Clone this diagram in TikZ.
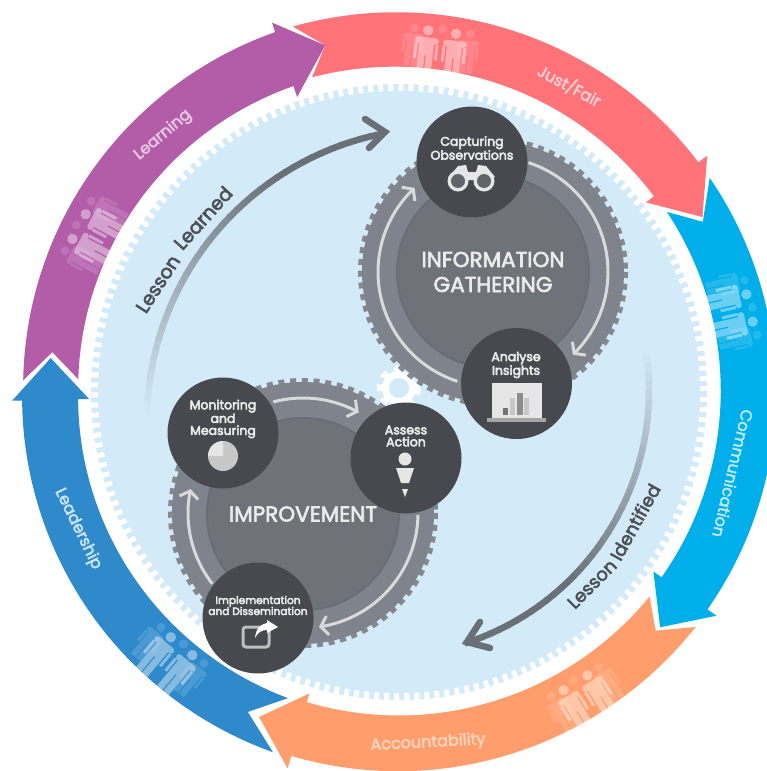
\documentclass[tikz,border=0pt]{standalone}
\usepackage{fontspec}
\setmainfont{Poppins}
\newfontfamily\popm[FakeBold=3]{Poppins}
\newfontfamily\popb[FakeBold=4]{Poppins}
\usetikzlibrary{arrows.meta}
\definecolor{cpurple}{HTML}{B35DA9}
\definecolor{cred}{HTML}{FF7379}
\definecolor{ccyan}{HTML}{00AEE9}
\definecolor{corange}{HTML}{FF9E6C}
\definecolor{cblue}{HTML}{2F8ACC}
\definecolor{cdisc}{HTML}{D3EAF8}
\definecolor{ctooth}{HTML}{85888E}
\definecolor{cring}{HTML}{7F838B}
\definecolor{ccore}{HTML}{6F7379}
\definecolor{cedge}{HTML}{696D75}
\definecolor{chub}{HTML}{47494E}
\definecolor{carc}{HTML}{D8DADB}
\definecolor{cicon}{HTML}{E6E6E7}
\definecolor{clesson}{HTML}{6A7077}
\definecolor{clessont}{HTML}{4C5157}
\newcommand\sweep[4]{plot[domain=#1:#2,samples=60] (\x:{#3+((#4)-(#3))*(\x-(#1))/((#2)-(#1))})}
\newcommand\sweepto[4]{-- plot[domain=#1:#2,samples=60] (\x:{#3+((#4)-(#3))*(\x-(#1))/((#2)-(#1))})}
% one figure: x offset, y offset, scale, opacity
\newcommand\onefig[4]{%
  \begin{scope}[shift={(#1,#2)},scale=#3]
    \fill[white,opacity=#4] (0,-19) circle[radius=5.2];
    \fill[white,opacity=#4,rounded corners=3] (-12,-12) rectangle (12,-6);
    \fill[white,opacity=#4] (-12,-6) rectangle (-9,10) (9,-6) rectangle (12,10);
    \fill[white,opacity=#4] (-7.5,-6) rectangle (7.5,6);
    \fill[white,opacity=#4] (-7.5,6) rectangle (-0.7,27) (0.7,6) rectangle (7.5,27);
  \end{scope}}
\newcommand\people[3]{%
  \begin{scope}[shift={(#1,#2)},rotate=#3]
    \fill[white,opacity=.14] (0,-21) circle[radius=4.5];
    \onefig{-28}{-3}{0.85}{.14}
    \onefig{28}{-3}{0.85}{.14}
    \onefig{-14}{1}{1}{.42}
    \onefig{14}{1}{1}{.42}
  \end{scope}}
\tikzset{
  gearbase/.style={circle,draw=none,fill=cring,minimum size=262,inner sep=0,outer sep=0},
  teeth/.style={ctooth,line width=5,dash pattern=on 6pt off 5.76pt},
  core/.style={circle,fill=ccore,draw=cedge,line width=2,minimum size=192,inner sep=0,outer sep=0,text=white!92!black,align=center,font=\popm\fontsize{21.5}{25}\selectfont},
  hub/.style={circle,fill=chub,minimum size=111,inner sep=0,outer sep=0},
  hubtext/.style={text=white!92!black,align=center,inner sep=0,font=\popb\fontsize{12.5}{12}\selectfont},
  smalltext/.style={text=white!92!black,align=center,inner sep=0,font=\popb\fontsize{10.6}{11}\selectfont},
  turn/.style={carc,line width=3,-{Straight Barb[length=7pt,width=19pt]}},
  lessonhead/.style={clesson,line width=6.5,line cap=round,line join=miter},
  bandtext/.style={inner sep=0,font=\popm\fontsize{16}{16}\selectfont},
  lessontext/.style={inner sep=0,text=clessont,font=\popm\fontsize{19}{19}\selectfont},
}
\begin{document}
\begin{tikzpicture}[x=1pt,y=-1pt]
\useasboundingbox (0,0) rectangle (767,771);
\clip (0,0) rectangle (767,771);
\fill[white] (0,0) rectangle (767,771);
% disc with teeth
\coordinate (dc) at (399,392);
\fill[cdisc] (dc) circle[radius=301];
\draw[cdisc,line width=8,dash pattern=on 5pt off 5.05pt] (dc) circle[radius=304];
% ring arrows
\begin{scope}[shift={(397,392)}]
\fill[cred] \sweep{-105.9}{-37.3}{380}{379} -- (-37.3:390) -- (-29.8:352) -- (-37.3:313) \sweepto{-37.3}{-105.1}{323}{326} -- (-101.7:354) -- cycle;
\fill[ccyan] \sweep{-34.4}{35}{379}{379} -- (35:390) -- (41.8:353) -- (35:313) \sweepto{35}{-33.7}{323}{324.5} -- (-29.1:350) -- cycle;
\fill[corange] \sweep{38.2}{106.2}{380}{379} -- (106.2:392) -- (113:353) -- (106.2:314) \sweepto{106.2}{39}{323}{325} -- (42.7:352) -- cycle;
\fill[cblue] \sweep{109}{178.7}{381}{375} -- (178.7:385) -- (185.6:348) -- (178.7:308) \sweepto{178.7}{109.6}{319}{325} -- (115:353) -- cycle;
\fill[cpurple] \sweep{181.8}{251.3}{374}{380} -- (251.3:390) -- (258.3:354) -- (251.3:311.5) \sweepto{251.3}{182.3}{323}{319} -- (186.6:347) -- cycle;
\end{scope}
\node[bandtext,text=white!65!cred,rotate=-28] (ljust) at (569.5,85.5) {Just/Fair};
\node[bandtext,text=white!72!ccyan,rotate=-103.3] (lcomm) at (733,473.5) {Communication};
\node[bandtext,text=white!55!corange,rotate=3] (lacc) at (428,743) {Accountability};
\node[bandtext,text=white!75!cblue,rotate=-64] (llead) at (78,529) {Leadership};
\node[bandtext,text=white!65!cpurple,rotate=40] (llearn) at (163,135) {Learning};
\people{440}{50}{-7}
\people{732}{312}{-77}
\people{585}{698}{32}
\people{170}{660}{-40}
\people{95}{235}{62}
% lesson learned
\begin{scope}[shift={(440,421)}]
\foreach \a in {180,182,...,256}{
  \pgfmathsetmacro\p{min(100,(\a-180)/55*100)}
  \draw[line width=6.5,color={clesson!\p!cdisc}] (\a:293) -- ({\a+2.3}:293);
}
\end{scope}
\node[lessontext,rotate=57] (ll1) at (158,284) {Lesson};
\node[lessontext,rotate=48] (ll2) at (203,218) {Learned};
\coordinate (lla) at (365,119);\coordinate (llb) at (385,132);\coordinate (llc) at (369,148);
\draw[lessonhead] (lla) -- (llb) -- (llc);
% lesson identified
\begin{scope}[shift={(384,391)}]
\foreach \a in {-10,-8,...,70}{
  \pgfmathsetmacro\p{min(100,(\a+10)/55*100)}
  \draw[line width=6.5,color={clesson!\p!cdisc}] (\a:265) -- ({\a+2.3}:265);
}
\end{scope}
\node[lessontext,rotate=45,font=\popm\fontsize{18}{18}\selectfont] (li1) at (592,584) {Lesson};
\node[lessontext,rotate=61,font=\popm\fontsize{18}{18}\selectfont] (li2) at (635,522) {Identified};
\coordinate (lia) at (480,622);\coordinate (lib) at (467,642);\coordinate (lic) at (490,648);
\draw[lessonhead] (lia) -- (lib) -- (lic);
% small cog
\fill[white] (399,388) circle[radius=17];
\draw[white,line width=8,dash pattern=on 6.5pt off 6.85pt] (399,388) circle[radius=18];
\fill[cdisc] (399,388) circle[radius=10];
% gears
\draw[teeth] (493,272) circle[radius=132.5];
\node[gearbase] (ig) at (493,272) {};
\node[core] (igc) at (493,272) {INFORMATION\\GATHERING};
\draw[teeth] (303,513) circle[radius=132.5];
\node[gearbase] (im) at (303,513) {};
\node[core] (imc) at (303,514) {IMPROVEMENT};
% turn arrows
\begin{scope}[shift={(493,272)}]
\draw[turn] plot[domain=-72:46,samples=50] (\x:115);
\draw[turn] plot[domain=108:227,samples=50] (\x:115);
\end{scope}
\begin{scope}[shift={(303,513)}]
\draw[turn] plot[domain=255:299,samples=30] (\x:115);
\draw[turn] plot[domain=1:82,samples=40] (\x:115);
\draw[turn] plot[domain=142:192,samples=30] (\x:115);
\end{scope}
% hubs
\node[hub] (co) at (472,162) {};
\node[hub] (ai) at (516.5,383.5) {};
\node[hub] (mm) at (223,433) {};
\node[hub] (aa) at (406,458) {};
\node[hub] (id) at (258,618) {};
\node[hubtext] (cot) at (472,148) {Capturing\\Observations};
\node[hubtext] (ait) at (516,365) {Analyse\\Insights};
\node[hubtext] (mmt) at (223,419) {Monitoring\\and\\Measuring};
\node[hubtext] (aat) at (406,436) {Assess\\Action};
\node[smalltext] (idt) at (258,605.5) {Implementation\\and Dissemination};
% binoculars
\fill[cicon] (449,177) -- (458,166) -- (466,165) -- (468,172) -- (476,172) -- (478,165) -- (486,166) -- (495,177) -- (484,180) -- (458,180) -- cycle;
\fill[cicon] (458,181) circle[radius=10.5] (484,181) circle[radius=10.5];
\fill[chub!85!white] (458,181) circle[radius=7] (484,181) circle[radius=7];
% chart
\fill[cicon] (492,383) rectangle (542,418);
\fill[black!35] (487,418) rectangle (546,422);
\fill[black!55] (503,408) rectangle (508,415);
\fill[black!22] (510,398) rectangle (515,415);
\fill[black!45] (517,393) rectangle (523,415);
\fill[black!22] (524,398) rectangle (529,415);
% pie
\fill[black!22] (223,456) circle[radius=15];
\fill[black!10] (223,456) -- (208,456) arc[start angle=180,end angle=270,radius=15] -- cycle;
% person
\fill[cicon] (405,459) circle[radius=6.5];
\fill[cicon] (396,468) -- (414,468) -- (409,483) -- (401,483) -- cycle;
\fill[cicon] (402,489) -- (408,489) -- (405,497) -- cycle;
% share
\draw[black!25,line width=3,rounded corners=3] (243,627) rectangle (269,647);
\fill[white] (255,638) .. controls (256,628) and (261,624) .. (267,623) -- (267,620) -- (278,627) -- (267,633) -- (267,630) .. controls (262,630) and (258,632) .. (255,638) -- cycle;
\end{tikzpicture}
\end{document}
